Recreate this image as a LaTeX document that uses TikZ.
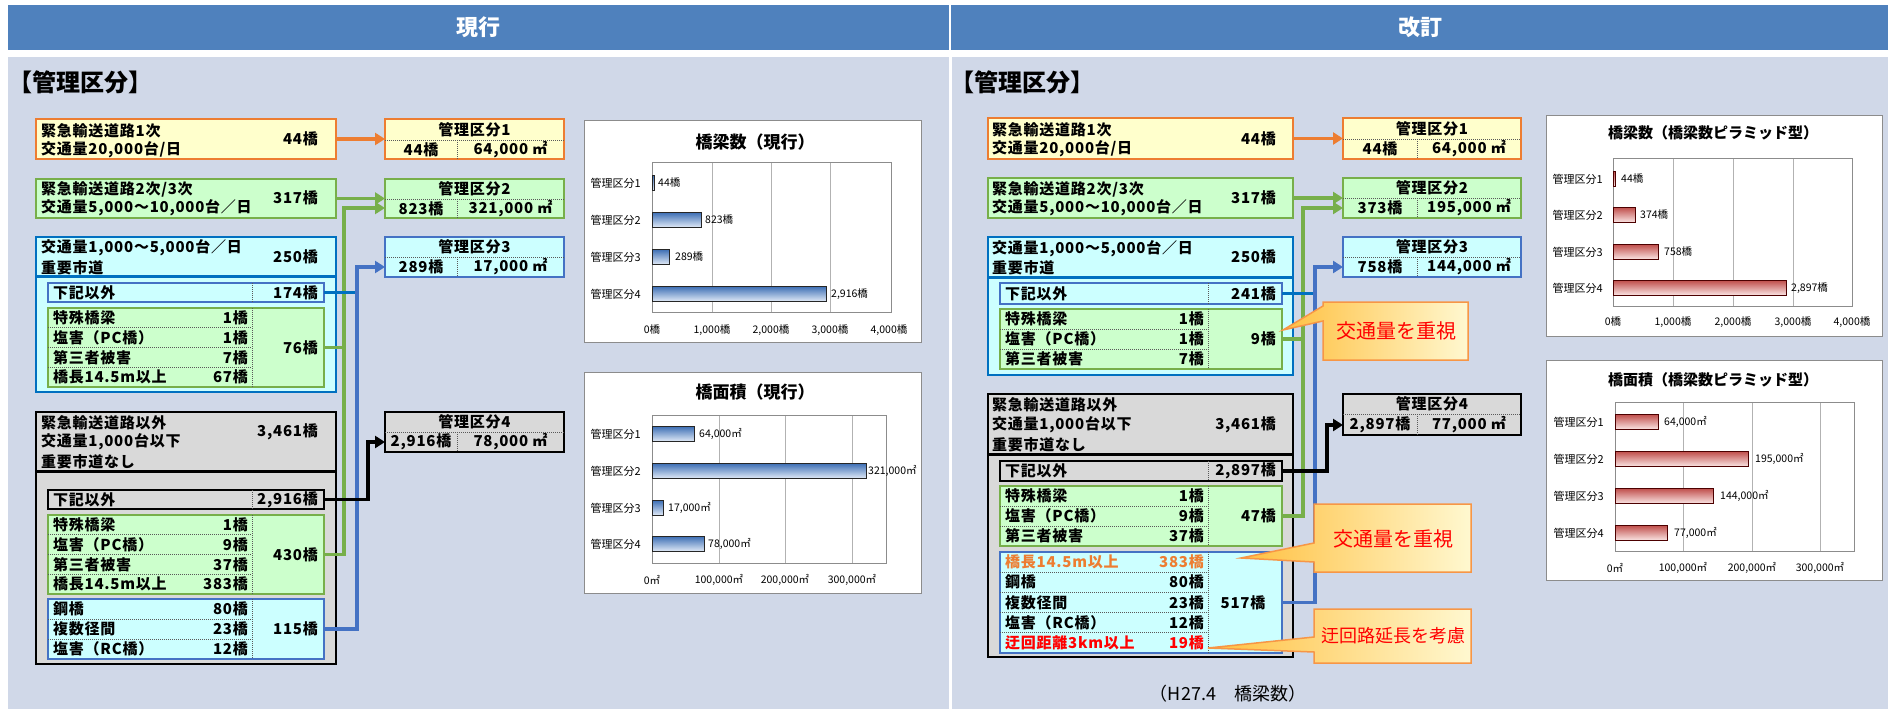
\documentclass[tikz,border=0pt]{standalone}
\usepackage{fontspec}
\setmainfont{Noto Sans CJK JP}
\newfontfamily\jpbox{Noto Sans CJK JP}[LetterSpace=5]
\usetikzlibrary{arrows.meta,calc}
\newcommand\fs[1]{\fontsize{#1}{#1}\selectfont}
\definecolor{hdr}{HTML}{4F81BD}
\definecolor{pnl}{HTML}{D0D8E8}
\definecolor{fyel}{HTML}{FFFFCC}
\definecolor{cora}{HTML}{ED7D31}
\definecolor{fgrn}{HTML}{CCFFCC}
\definecolor{cgrn}{HTML}{77AF4A}
\definecolor{fcya}{HTML}{CCFFFF}
\definecolor{cblu}{HTML}{4472C4}
\definecolor{cblu2}{HTML}{0070C0}
\definecolor{fgry}{HTML}{D9D9D9}
\definecolor{cred}{HTML}{FF0000}
\definecolor{calA}{HTML}{FFC040}
\definecolor{calB}{HTML}{FFF8D0}
\definecolor{calD}{HTML}{F79646}
\definecolor{bbT}{HTML}{3F70B5}
\definecolor{bbB}{HTML}{E2EBF7}
\definecolor{rbT}{HTML}{C0504D}
\definecolor{rbB}{HTML}{FBE6E5}
\tikzset{
 bx/.style={anchor=north west, inner sep=0pt, outer sep=0pt, line width=1.5pt},
 yel/.style={bx, fill=fyel, draw=cora},
 grn/.style={bx, fill=fgrn, draw=cgrn},
 cya/.style={bx, fill=fcya, draw=cblu},
 gry/.style={bx, fill=fgry, draw=black},
 sz/.style 2 args={minimum width=#1pt, minimum height=#2pt},
 tl/.style={anchor=west, inner sep=0pt, font=\jpbox\bfseries\fs{15}},
 tr/.style={anchor=east, inner sep=0pt, font=\jpbox\bfseries\fs{15}},
 tc/.style={anchor=center, inner sep=0pt, font=\jpbox\bfseries\fs{15}},
 dv/.style={dash pattern=on 1pt off 1pt, line width=0.9pt, draw=black!65},
 conn/.style={line width=3.5pt, -{Triangle[length=10pt,width=12pt]}},
 wire/.style={line width=3.5pt},
 chbox/.style={anchor=north west, inner sep=0pt, outer sep=0pt, draw=black!45, fill=white, line width=1pt},
 grd/.style={draw=black!30, line width=0.8pt},
 pfr/.style={draw=black!45, line width=0.8pt},
 ctl/.style={font=\bfseries\fs{17}, inner sep=0pt},
 clab/.style={anchor=east, inner sep=0pt, font=\fs{11}},
 vlab/.style={anchor=west, inner sep=0pt, font=\fs{10.5}},
 alab/.style={anchor=center, inner sep=0pt, font=\fs{10.5}},
 bbar/.style={draw=black!85, line width=1pt, top color=bbT, bottom color=bbB},
 rbar/.style={draw=black!70!red, line width=1pt, top color=rbT, bottom color=rbB},
 cal/.style={draw=calD, line width=1.5pt, left color=calA, right color=calB},
 ctext/.style={inner sep=0pt, text=cred, font=\fs{20}},
}
\begin{document}
\begin{tikzpicture}[x=1pt,y=-1pt]
\useasboundingbox (0,0) rectangle (1888,709);
\fill[white] (0,0) rectangle (1888,709);
% headers and panels
\fill[hdr] (8,5) rectangle (949,50);
\fill[hdr] (951,5) rectangle (1888,50);
\fill[pnl] (8,57) rectangle (949,709);
\fill[pnl] (952,57) rectangle (1888,709);
\node[inner sep=0pt, text=white, font=\bfseries\fs{22}] (hL) at (478,27) {現行};
\node[inner sep=0pt, text=white, font=\bfseries\fs{22}] (hR) at (1420,27) {改訂};
\node[anchor=west, inner sep=0pt, font=\bfseries\fs{24}] (kL) at (8,82) {【管理区分】};
\node[anchor=west, inner sep=0pt, font=\bfseries\fs{24}] (kR) at (950,82) {【管理区分】};

%================ LEFT =================
\node[yel, sz={300}{40}] (b1) at (36,119) {};
\node[tl] (b1l1) at (41,131) {緊急輸送道路1次};
\node[tl] (b1l2) at (41,150) {交通量20,000台/日};
\node[tr] (b1v) at (318,139) {44橋};

\node[grn, sz={300}{39}] (b2) at (36,179) {};
\node[tl] (b2l1) at (41,189) {緊急輸送道路2次/3次};
\node[tl] (b2l2) at (41,208) {交通量5,000～10,000台／日};
\node[tr] (b2v) at (318,198) {317橋};

\node[bx, fill=fcya, draw=cblu2, sz={300}{155}] (b3) at (36,237) {};
\draw[line width=3pt, cblu2] (36,276) -- (336,276);
\node[tl] (b3l1) at (41,248) {交通量1,000～5,000台／日};
\node[tl] (b3l2) at (41,268) {重要市道};
\node[tr] (b3v) at (318,257) {250橋};

\node[cya, sz={276}{19}] (b3a) at (48,283) {};
\draw[dv] (252,283) -- (252,302);
\node[tl] (b3a1) at (53,292.5) {下記以外};
\node[tr] (b3a2) at (318,292.5) {174橋};

\node[grn, sz={276}{79}] (b3b) at (48,308) {};
\draw[dv] (252,308) -- (252,387);
\foreach \yy in {327.75,347.5,367.25} \draw[dv] (48,\yy) -- (252,\yy);
\node[tl] (b3r1) at (53,318) {特殊橋梁};       \node[tr] (b3r1v) at (248,318) {1橋};
\node[tl] (b3r2) at (53,337.6) {塩害（PC橋）};  \node[tr] (b3r2v) at (248,337.6) {1橋};
\node[tl] (b3r3) at (53,357.4) {第三者被害};     \node[tr] (b3r3v) at (248,357.4) {7橋};
\node[tl] (b3r4) at (53,377.1) {橋長14.5m以上};  \node[tr] (b3r4v) at (248,377.1) {67橋};
\node[tr] (b3bv) at (318,347.5) {76橋};

\node[gry, sz={300}{252}] (b4) at (36,412) {};
\draw[line width=3pt] (36,471) -- (336,471);
\node[tl] (b4l1) at (41,423) {緊急輸送道路以外};
\node[tl] (b4l2) at (41,442) {交通量1,000台以下};
\node[tl] (b4l3) at (41,462) {重要市道なし};
\node[tr] (b4v) at (318,432) {3,461橋};

\node[gry, line width=2pt, sz={276}{19}] (b4a) at (48,490) {};
\draw[dv] (252,490) -- (252,509);
\node[tl] (b4a1) at (53,499.5) {下記以外};
\node[tr] (b4a2) at (318,499.5) {2,916橋};

\node[grn, sz={276}{79}] (b4b) at (48,515) {};
\draw[dv] (252,515) -- (252,594);
\foreach \yy in {534.75,554.5,574.25} \draw[dv] (48,\yy) -- (252,\yy);
\node[tl] (b4r1) at (53,525) {特殊橋梁};       \node[tr] (b4r1v) at (248,525) {1橋};
\node[tl] (b4r2) at (53,544.6) {塩害（PC橋）};  \node[tr] (b4r2v) at (248,544.6) {9橋};
\node[tl] (b4r3) at (53,564.4) {第三者被害};     \node[tr] (b4r3v) at (248,564.4) {37橋};
\node[tl] (b4r4) at (53,584.1) {橋長14.5m以上};  \node[tr] (b4r4v) at (248,584.1) {383橋};
\node[tr] (b4bv) at (318,554.5) {430橋};

\node[cya, sz={276}{60}] (b4c) at (48,599) {};
\draw[dv] (252,599) -- (252,659);
\foreach \yy in {619,639} \draw[dv] (48,\yy) -- (252,\yy);
\node[tl] (b4s1) at (53,609) {鋼橋};           \node[tr] (b4s1v) at (248,609) {80橋};
\node[tl] (b4s2) at (53,629) {複数径間};       \node[tr] (b4s2v) at (248,629) {23橋};
\node[tl] (b4s3) at (53,649) {塩害（RC橋）};  \node[tr] (b4s3v) at (248,649) {12橋};
\node[tr] (b4cv) at (318,629) {115橋};

% targets left
\node[yel, sz={179}{40}] (t1) at (385,119) {};
\draw[dv] (385,140) -- (564,140); \draw[dv] (457,140) -- (457,159);
\node[tc] (t1h) at (474.5,129.5) {管理区分1};
\node[tc] (t1a) at (421,149.5) {44橋};
\node[tc] (t1b) at (510.5,149.5) {64,000 ㎡};

\node[grn, sz={179}{39}] (t2) at (385,179) {};
\draw[dv] (385,199) -- (564,199); \draw[dv] (457,199) -- (457,218);
\node[tc] (t2h) at (474.5,189) {管理区分2};
\node[tc] (t2a) at (421,208.5) {823橋};
\node[tc] (t2b) at (510.5,208.5) {321,000 ㎡};

\node[cya, sz={179}{40}] (t3) at (385,237) {};
\draw[dv] (385,257) -- (564,257); \draw[dv] (457,257) -- (457,277);
\node[tc] (t3h) at (474.5,247) {管理区分3};
\node[tc] (t3a) at (421,267) {289橋};
\node[tc] (t3b) at (510.5,267) {17,000 ㎡};

\node[gry, sz={179}{40}] (t4) at (385,412) {};
\draw[dv] (385,432) -- (564,432); \draw[dv] (457,432) -- (457,452);
\node[tc] (t4h) at (474.5,422) {管理区分4};
\node[tc] (t4a) at (421,442) {2,916橋};
\node[tc] (t4b) at (510.5,442) {78,000 ㎡};

% connectors left
\coordinate (gv) at (344,208);
\coordinate (bv) at (357,267);
\coordinate (kv) at (368,442);
\draw[conn, cora] (b1.east) -- (b1.east -| t1.west);
\draw[conn, cgrn] (b2.east) -- (b2.east -| t2.west);
\draw[wire, cgrn] (b3b.east) -- (b3b.east -| gv);
\draw[conn, cgrn] (b4b.east) -| (gv) -- (gv -| t2.west);
\draw[wire, cblu2] (b3a.east) -- (b3a.east -| bv);
\draw[conn, cblu] (b4c.east) -| (bv) -- (bv -| t3.west);
\draw[conn, black] (b4a.east) -| (kv) -- (kv -| t4.west);

% chart 1
\node[chbox, sz={337}{222}] (c1) at (584,120) {};
\foreach \gx in {712,771,830} \draw[grd] (\gx,162) -- (\gx,312);
\draw[pfr] (652,162) rectangle (891,312);
\node[ctl] (c1t) at (755,142) {橋梁数（現行）};
\node[clab] (c1c1) at (641,183) {管理区分1};
\node[clab] (c1c2) at (641,220) {管理区分2};
\node[clab] (c1c3) at (641,257) {管理区分3};
\node[clab] (c1c4) at (641,294) {管理区分4};
\draw[bbar] (652,175.5) rectangle (654.6,190.5);
\draw[bbar] (652,212.5) rectangle (701.2,227.5);
\draw[bbar] (652,249.5) rectangle (669.3,264.5);
\draw[bbar] (652,286.5) rectangle (826.2,301.5);
\node[vlab] (c1v1) at (658,183) {44橋};
\node[vlab] (c1v2) at (705,220) {823橋};
\node[vlab] (c1v3) at (675,257) {289橋};
\node[vlab] (c1v4) at (831,294) {2,916橋};
\node[alab] (c1a0) at (652,330) {0橋};
\node[alab] (c1a1) at (712,330) {1,000橋};
\node[alab] (c1a2) at (771,330) {2,000橋};
\node[alab] (c1a3) at (830,330) {3,000橋};
\node[alab] (c1a4) at (889,330) {4,000橋};

% chart 2
\node[chbox, sz={337}{221}] (c2) at (584,372) {};
\foreach \gx in {719,785,852} \draw[grd] (\gx,415) -- (\gx,563);
\draw[pfr] (652,415) rectangle (886,563);
\node[ctl] (c2t) at (755,392) {橋面積（現行）};
\node[clab] (c2c1) at (641,434) {管理区分1};
\node[clab] (c2c2) at (641,471) {管理区分2};
\node[clab] (c2c3) at (641,508) {管理区分3};
\node[clab] (c2c4) at (641,544) {管理区分4};
\draw[bbar] (652,426.5) rectangle (694.7,441.5);
\draw[bbar] (652,463.5) rectangle (866.1,478.5);
\draw[bbar] (652,500.5) rectangle (663.3,515.5);
\draw[bbar] (652,536.5) rectangle (704,551.5);
\node[vlab] (c2v1) at (699,434) {64,000㎡};
\node[vlab] (c2v2) at (868,471) {321,000㎡};
\node[vlab] (c2v3) at (668,508) {17,000㎡};
\node[vlab] (c2v4) at (708,544) {78,000㎡};
\node[alab] (c2a0) at (652,580) {0㎡};
\node[alab] (c2a1) at (719,580) {100,000㎡};
\node[alab] (c2a2) at (785,580) {200,000㎡};
\node[alab] (c2a3) at (852,580) {300,000㎡};

%================ RIGHT =================
\node[yel, sz={305}{41}] (B1) at (988,118) {};
\node[tl] (B1l1) at (992,130) {緊急輸送道路1次};
\node[tl] (B1l2) at (992,149) {交通量20,000台/日};
\node[tr] (B1v) at (1276,138.5) {44橋};

\node[grn, sz={305}{40}] (B2) at (988,178) {};
\node[tl] (B2l1) at (992,189) {緊急輸送道路2次/3次};
\node[tl] (B2l2) at (992,208) {交通量5,000～10,000台／日};
\node[tr] (B2v) at (1276,198) {317橋};

\node[bx, fill=fcya, draw=cblu2, sz={305}{138}] (B3) at (988,237) {};
\draw[line width=3pt, cblu2] (988,277) -- (1293,277);
\node[tl] (B3l1) at (992,249) {交通量1,000～5,000台／日};
\node[tl] (B3l2) at (992,268) {重要市道};
\node[tr] (B3v) at (1276,257) {250橋};

\node[cya, sz={282}{21}] (B3a) at (1000,283) {};
\draw[dv] (1208,283) -- (1208,304);
\node[tl] (B3a1) at (1005,293.5) {下記以外};
\node[tr] (B3a2) at (1276,293.5) {241橋};

\node[grn, sz={282}{60}] (B3b) at (1000,309) {};
\draw[dv] (1208,309) -- (1208,369);
\foreach \yy in {329,349} \draw[dv] (1000,\yy) -- (1208,\yy);
\node[tl] (B3r1) at (1005,319) {特殊橋梁};      \node[tr] (B3r1v) at (1204,319) {1橋};
\node[tl] (B3r2) at (1005,339) {塩害（PC橋）}; \node[tr] (B3r2v) at (1204,339) {1橋};
\node[tl] (B3r3) at (1005,359) {第三者被害};    \node[tr] (B3r3v) at (1204,359) {7橋};
\node[tr] (B3bv) at (1276,339) {9橋};

\node[gry, sz={305}{263}] (B4) at (988,394) {};
\draw[line width=3pt] (988,454) -- (1293,454);
\node[tl] (B4l1) at (992,405) {緊急輸送道路以外};
\node[tl] (B4l2) at (992,425) {交通量1,000台以下};
\node[tl] (B4l3) at (992,445) {重要市道なし};
\node[tr] (B4v) at (1276,425) {3,461橋};

\node[gry, line width=2pt, sz={282}{20}] (B4a) at (1000,461) {};
\draw[dv] (1208,461) -- (1208,481);
\node[tl] (B4a1) at (1005,471) {下記以外};
\node[tr] (B4a2) at (1276,471) {2,897橋};

\node[grn, sz={282}{60}] (B4b) at (1000,486) {};
\draw[dv] (1208,486) -- (1208,546);
\foreach \yy in {506,526} \draw[dv] (1000,\yy) -- (1208,\yy);
\node[tl] (B4r1) at (1005,496) {特殊橋梁};      \node[tr] (B4r1v) at (1204,496) {1橋};
\node[tl] (B4r2) at (1005,516) {塩害（PC橋）}; \node[tr] (B4r2v) at (1204,516) {9橋};
\node[tl] (B4r3) at (1005,536) {第三者被害};    \node[tr] (B4r3v) at (1204,536) {37橋};
\node[tr] (B4bv) at (1276,516) {47橋};

\node[cya, sz={282}{101}] (B4c) at (1000,552) {};
\draw[dv] (1208,552) -- (1208,653);
\foreach \yy in {572.2,592.4,612.6,632.8} \draw[dv] (1000,\yy) -- (1208,\yy);
\node[tl, text=cora] (B4s1) at (1005,562.1) {橋長14.5m以上}; \node[tr, text=cora] (B4s1v) at (1204,562.1) {383橋};
\node[tl] (B4s2) at (1005,582.3) {鋼橋};          \node[tr] (B4s2v) at (1204,582.3) {80橋};
\node[tl] (B4s3) at (1005,602.5) {複数径間};      \node[tr] (B4s3v) at (1204,602.5) {23橋};
\node[tl] (B4s4) at (1005,622.7) {塩害（RC橋）}; \node[tr] (B4s4v) at (1204,622.7) {12橋};
\node[tl, text=cred] (B4s5) at (1005,642.9) {迂回距離3km以上}; \node[tr, text=cred] (B4s5v) at (1204,642.9) {19橋};
\node[tc] (B4cv) at (1243,602.5) {517橋};

% targets right
\node[yel, sz={178}{41}] (T1) at (1343,118) {};
\draw[dv] (1343,139) -- (1521,139); \draw[dv] (1417,139) -- (1417,159);
\node[tc] (T1h) at (1432,128.5) {管理区分1};
\node[tc] (T1a) at (1380,149) {44橋};
\node[tc] (T1b) at (1469,149) {64,000 ㎡};

\node[grn, sz={178}{40}] (T2) at (1343,178) {};
\draw[dv] (1343,198) -- (1521,198); \draw[dv] (1417,198) -- (1417,218);
\node[tc] (T2h) at (1432,188) {管理区分2};
\node[tc] (T2a) at (1380,208) {373橋};
\node[tc] (T2b) at (1469,208) {195,000 ㎡};

\node[cya, sz={178}{40}] (T3) at (1343,237) {};
\draw[dv] (1343,257) -- (1521,257); \draw[dv] (1417,257) -- (1417,277);
\node[tc] (T3h) at (1432,247) {管理区分3};
\node[tc] (T3a) at (1380,267) {758橋};
\node[tc] (T3b) at (1469,267) {144,000 ㎡};

\node[gry, sz={178}{41}] (T4) at (1343,394) {};
\draw[dv] (1343,414) -- (1521,414); \draw[dv] (1417,414) -- (1417,435);
\node[tc] (T4h) at (1432,404) {管理区分4};
\node[tc] (T4a) at (1380,424.5) {2,897橋};
\node[tc] (T4b) at (1469,424.5) {77,000 ㎡};

% connectors right
\coordinate (gv2) at (1303,208);
\coordinate (bv2) at (1315,267);
\coordinate (kv2) at (1327,425);
\draw[conn, cora] (B1.east) -- (B1.east -| T1.west);
\draw[conn, cgrn] (B2.east) -- (B2.east -| T2.west);
\draw[wire, cgrn] (B3b.east) -- (B3b.east -| gv2);
\draw[conn, cgrn] (B4b.east) -| (gv2) -- (gv2 -| T2.west);
\draw[wire, cblu2] (B3a.east) -- (B3a.east -| bv2);
\draw[conn, cblu] (B4c.east) -| (bv2) -- (bv2 -| T3.west);
\draw[conn, black] (B4a.east) -| (kv2) -- (kv2 -| T4.west);

% callouts
\draw[cal] (1323,302) -- (1468,302) -- (1468,360) -- (1323,360) -- (1323,321) -- (1283,330) -- (1323,306) -- cycle;
\node[ctext] (cl1) at (1396,331) {交通量を重視};
\draw[cal] (1314,504) -- (1471,504) -- (1471,572) -- (1314,572) -- (1314,562) -- (1241,558) -- (1314,543) -- cycle;
\node[ctext] (cl2) at (1393,539) {交通量を重視};
\draw[cal] (1314,609) -- (1471,609) -- (1471,663) -- (1314,663) -- (1314,652) -- (1208,648) -- (1314,637) -- cycle;
\node[ctext, font=\fs{18}] (cl3) at (1393,636) {迂回路延長を考慮};

\node[inner sep=0pt, font=\fs{18}] (cap) at (1228,694) {（H27.4　橋梁数）};

% chart 3
\node[chbox, sz={336}{221}] (c3) at (1546,115) {};
\foreach \gx in {1673,1733,1793} \draw[grd] (\gx,158) -- (\gx,306);
\draw[pfr] (1613,158) rectangle (1852,306);
\node[ctl, font=\bfseries\fs{15}] (c3t) at (1713,133) {橋梁数（橋梁数ピラミッド型）};
\node[clab] (c3c1) at (1603,179) {管理区分1};
\node[clab] (c3c2) at (1603,215) {管理区分2};
\node[clab] (c3c3) at (1603,252) {管理区分3};
\node[clab] (c3c4) at (1603,288) {管理区分4};
\draw[rbar] (1613,171.5) rectangle (1615.6,186.5);
\draw[rbar] (1613,207.5) rectangle (1635.3,222.5);
\draw[rbar] (1613,244.5) rectangle (1658.3,259.5);
\draw[rbar] (1613,280.5) rectangle (1786.1,295.5);
\node[vlab] (c3v1) at (1621,179) {44橋};
\node[vlab] (c3v2) at (1640,215) {374橋};
\node[vlab] (c3v3) at (1664,252) {758橋};
\node[vlab] (c3v4) at (1791,288) {2,897橋};
\node[alab] (c3a0) at (1613,322) {0橋};
\node[alab] (c3a1) at (1673,322) {1,000橋};
\node[alab] (c3a2) at (1733,322) {2,000橋};
\node[alab] (c3a3) at (1793,322) {3,000橋};
\node[alab] (c3a4) at (1852,322) {4,000橋};

% chart 4
\node[chbox, sz={336}{220}] (c4) at (1546,360) {};
\foreach \gx in {1683,1752,1820} \draw[grd] (\gx,402) -- (\gx,551);
\draw[pfr] (1615,402) rectangle (1854,551);
\node[ctl, font=\bfseries\fs{15}] (c4t) at (1713,380) {橋面積（橋梁数ピラミッド型）};
\node[clab] (c4c1) at (1604,422) {管理区分1};
\node[clab] (c4c2) at (1604,459) {管理区分2};
\node[clab] (c4c3) at (1604,496) {管理区分3};
\node[clab] (c4c4) at (1604,533) {管理区分4};
\draw[rbar] (1615,414.5) rectangle (1658.7,429.5);
\draw[rbar] (1615,451.5) rectangle (1748.2,466.5);
\draw[rbar] (1615,488.5) rectangle (1713.4,503.5);
\draw[rbar] (1615,525.5) rectangle (1667.6,540.5);
\node[vlab] (c4v1) at (1664,422) {64,000㎡};
\node[vlab] (c4v2) at (1755,459) {195,000㎡};
\node[vlab] (c4v3) at (1720,496) {144,000㎡};
\node[vlab] (c4v4) at (1674,533) {77,000㎡};
\node[alab] (c4a0) at (1615,568) {0㎡};
\node[alab] (c4a1) at (1683,568) {100,000㎡};
\node[alab] (c4a2) at (1752,568) {200,000㎡};
\node[alab] (c4a3) at (1820,568) {300,000㎡};
\end{tikzpicture}
\end{document}
